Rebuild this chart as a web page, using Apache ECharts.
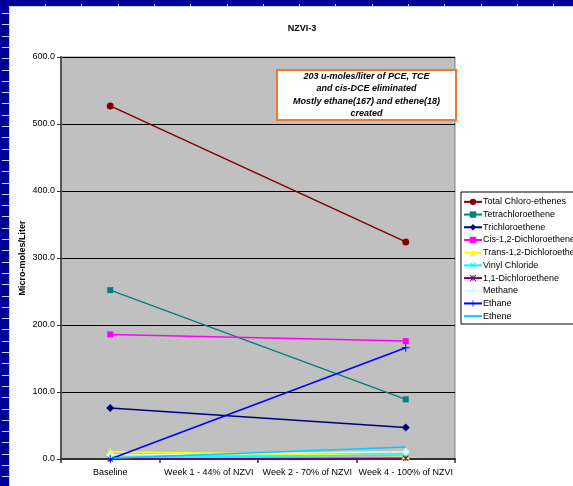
<!DOCTYPE html>
<html><head><meta charset="utf-8">
<style>html,body{margin:0;padding:0;background:#fff;}#c{width:573px;height:486px;}</style>
<script src="https://cdn.jsdelivr.net/npm/echarts/dist/echarts.min.js"></script>
</head><body><div id="c"></div>
<script>
var categories = ['Baseline', 'Week 1 - 44% of NZVI', 'Week 2 - 70% of NZVI', 'Week 4 - 100% of NZVI'];
var totalChloro = [527, null, null, 324];
var tetra = [252, null, null, 89];
var trichloro = [76, null, null, 47];
var cisDCE = [186, null, null, 176];
var transDCE = [11, null, null, 5];
var vinylChloride = [2, null, null, 6];
var dce11 = [0, null, null, 1];
var methane = [6, null, null, 11];
var ethane = [0, null, null, 166];
var ethene = [1, null, null, 18];
var yTicks = [0, 100, 200, 300, 400, 500, 600];
var yAxisTitle = 'Micro-moles/Liter';
var noteLines = ['203 u-moles/liter of PCE, TCE', 'and cis-DCE eliminated', 'Mostly ethane(167) and ethene(18)', 'created'];

var FONT = 'Liberation Sans, Arial, sans-serif';
var X_PATH = 'path://M0,1.2L1.2,0L5,3.8L8.8,0L10,1.2L6.2,5L10,8.8L8.8,10L5,6.2L1.2,10L0,8.8L3.8,5Z';
var PLUS_PATH = 'path://M4.4,0H5.6V4.4H10V5.6H5.6V10H4.4V5.6H0V4.4H4.4Z';
var STAR_PATH = 'path://M0,1.2L1.2,0L5,3.8L8.8,0L10,1.2L6.2,5L10,8.8L8.8,10L5,6.2L1.2,10L0,8.8L3.8,5ZM4.4,0H5.6V10H4.4Z';

function mk(name, data, color, symbol, size) {
  return {
    name: name, type: 'line', data: data, connectNulls: true,
    symbol: symbol, symbolSize: size, showSymbol: symbol !== 'none',
    lineStyle: { color: color, width: 1.5 },
    itemStyle: { color: color },
    emphasis: { disabled: true }, animation: false, z: 3
  };
}
var series = [
  mk('Total Chloro-ethenes', totalChloro, '#800000', 'circle', 7),
  mk('Tetrachloroethene', tetra, '#008080', 'rect', 6),
  mk('Trichloroethene', trichloro, '#000080', 'diamond', 8),
  mk('Cis-1,2-Dichloroethene', cisDCE, '#FF00FF', 'rect', 6),
  mk('Trans-1,2-Dichloroethene', transDCE, '#FFFF00', 'triangle', 8),
  mk('Vinyl Chloride', vinylChloride, '#00FFFF', X_PATH, 6),
  mk('1,1-Dichloroethene', dce11, '#800080', STAR_PATH, 6),
  mk('Methane', methane, '#CCFFFF', 'diamond', 8),
  mk('Ethane', ethane, '#0000FF', PLUS_PATH, 8),
  mk('Ethene', ethene, '#00CCFF', 'none', 6)
];

// page frame decoration
var graphics = [
  { type: 'rect', shape: { x: 0, y: 0, width: 573, height: 486 }, style: { fill: '#000099' }, z: -10, silent: true },
  { type: 'rect', shape: { x: 10, y: 7, width: 563, height: 479 }, style: { fill: '#FFFFFF' }, z: -9, silent: true },
  { type: 'line', shape: { x1: 9.5, y1: 6, x2: 9.5, y2: 486 }, style: { stroke: '#C8D4F4', lineWidth: 1 }, z: -8, silent: true },
  { type: 'line', shape: { x1: 9, y1: 6.5, x2: 573, y2: 6.5 }, style: { stroke: '#C8D4F4', lineWidth: 1 }, z: -8, silent: true }
];
for (var yy = 13; yy < 486; yy += 11.3) {
  graphics.push({ type: 'line', shape: { x1: 2, y1: Math.round(yy) + 0.5, x2: 9, y2: Math.round(yy) + 0.5 }, style: { stroke: '#C8D4F4', lineWidth: 1 }, z: -8, silent: true });
}
for (var xx = 45; xx < 573; xx += 36.3) {
  graphics.push({ type: 'line', shape: { x1: Math.round(xx) + 0.5, y1: 4, x2: Math.round(xx) + 0.5, y2: 6 }, style: { stroke: '#C8D4F4', lineWidth: 1 }, z: -8, silent: true });
}
// y-axis title
graphics.push({
  type: 'text', x: 23, y: 258, rotation: Math.PI / 2, z: 10, silent: true,
  style: { text: yAxisTitle, fill: '#000', font: 'bold 9px ' + FONT, align: 'center', verticalAlign: 'middle' }
});
// annotation box
graphics.push({
  type: 'group', left: 276, top: 69, z: 10, children: [
    { type: 'rect', shape: { x: 0, y: 0, width: 179, height: 50 }, style: { fill: '#FFFFFF', stroke: '#F07828', lineWidth: 2 } },
    { type: 'text', x: 89.5, y: 25, style: { text: noteLines.join('\n'), fill: '#000', font: 'italic bold 9px ' + FONT, align: 'center', verticalAlign: 'middle', lineHeight: 12.4 } }
  ]
});

var legendData = series.map(function (s) {
  return s.symbol === 'none' ? { name: s.name, itemStyle: { opacity: 0 } } : s.name;
});

var chart = echarts.init(document.getElementById('c'), null, { renderer: 'canvas' });
chart.setOption({
  animation: false,
  title: { text: 'NZVI-3', left: 297, top: 19, textAlign: 'center', textStyle: { fontFamily: FONT, fontSize: 9, fontWeight: 'bold', color: '#000' } },
  graphic: graphics,
  grid: { left: 61, right: 118, top: 57, bottom: 27, show: true, backgroundColor: '#C0C0C0', borderColor: '#808080', borderWidth: 1, containLabel: false },
  legend: {
    orient: 'vertical', left: 461, top: 192,
    backgroundColor: '#FFFFFF', borderColor: '#000', borderWidth: 1, borderRadius: 0,
    padding: [4, 6, 2, 2], itemWidth: 18, itemHeight: 8, itemGap: 1,
    textStyle: { fontFamily: FONT, fontSize: 9, color: '#000', lineHeight: 11.7, padding: [0, 0, 0, -4] },
    data: legendData
  },
  xAxis: {
    type: 'category', data: categories, boundaryGap: true,
    axisLine: { lineStyle: { color: '#333', width: 2 } },
    axisTick: { show: true, length: 4, lineStyle: { color: '#333', width: 1.5 } },
    axisLabel: { fontFamily: FONT, fontSize: 9, color: '#000', margin: 9, interval: 0 },
    splitLine: { show: false }
  },
  yAxis: {
    type: 'value', min: 0, max: 600, interval: 100,
    axisLine: { show: true, lineStyle: { color: '#555', width: 2 } },
    axisTick: { show: true, length: 4, lineStyle: { color: '#333' } },
    axisLabel: { fontFamily: FONT, fontSize: 9, color: '#000', margin: 6, formatter: function (v) { return yTicks.indexOf(v) >= 0 ? v.toFixed(1) : ''; } },
    splitLine: { show: true, lineStyle: { color: '#000', width: 1 } }
  },
  series: series
});
</script></body></html>
